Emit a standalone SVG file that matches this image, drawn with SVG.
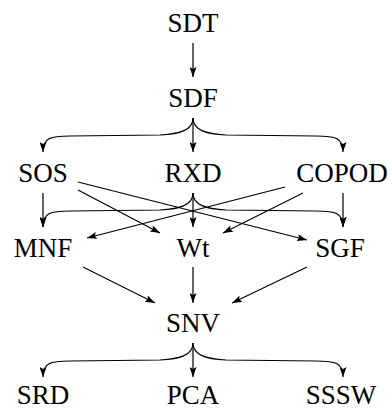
<svg xmlns="http://www.w3.org/2000/svg" width="392" height="409" viewBox="0 0 392 409">
  <style>
    .edge { fill: none; stroke: #000; stroke-width: 1.2; marker-end: url(#arr); }
  </style>
  <defs>
    <marker id="arr" viewBox="0 0 10 7" refX="10" refY="3.5" markerWidth="10" markerHeight="7" markerUnits="userSpaceOnUse" orient="auto">
      <path d="M0,0 L10,3.5 L0,7 L2,3.5 z" fill="#000"/>
    </marker>
  </defs>
  <g id="connectors">
    <path class="edge" d="M193,43 V77"/>
    <path class="edge" d="M193,118 C193,130 180,134 160,135 L70,136 C50,136 43,138 43,152"/>
    <path class="edge" d="M193,118 C193,130 206,134 226,135 L316,136 C336,136 343,138 343,152"/>
    <path class="edge" d="M193,118 V152"/>
    <path class="edge" d="M43,193 V227"/>
    <path class="edge" d="M193,193 C193,205 180,209 160,210 L70,211 C50,211 43,213 43,227"/>
    <path class="edge" d="M193,193 C193,205 206,209 226,210 L316,211 C336,211 343,213 343,227"/>
    <path class="edge" d="M193,193 V227"/>
    <path class="edge" d="M343,193 V227"/>
    <path class="edge" d="M78,190 L160,233"/>
    <path class="edge" d="M78,182 L307,240"/>
    <path class="edge" d="M285,187 L87,238"/>
    <path class="edge" d="M303,193 L223,233"/>
    <path class="edge" d="M83,267 L155,303"/>
    <path class="edge" d="M193,267 V303"/>
    <path class="edge" d="M307,267 L232,303"/>
    <path class="edge" d="M193,343 C193,355 180,359 160,360 L70,361 C50,361 43,363 43,377"/>
    <path class="edge" d="M193,343 C193,355 206,359 226,360 L316,361 C336,361 343,363 343,377"/>
    <path class="edge" d="M193,343 V377"/>
  </g>
  <g font-family="Liberation Serif, DejaVu Serif, serif" font-size="27" fill="#000" text-anchor="middle">
    <g id="SDT"><text x="193" y="32">SDT</text></g>
    <g id="SDF"><text x="193" y="107">SDF</text></g>
    <g id="SOS"><text x="43" y="182">SOS</text></g>
    <g id="RXD"><text x="193" y="182">RXD</text></g>
    <g id="COPOD"><text x="342" y="182">COPOD</text></g>
    <g id="MNF"><text x="43" y="257">MNF</text></g>
    <g id="Wt"><text x="193" y="257">Wt</text></g>
    <g id="SGF"><text x="340" y="257">SGF</text></g>
    <g id="SNV"><text x="193" y="332">SNV</text></g>
    <g id="SRD"><text x="43" y="404">SRD</text></g>
    <g id="PCA"><text x="193" y="404">PCA</text></g>
    <g id="SSSW"><text x="341" y="404">SSSW</text></g>
  </g>
</svg>
